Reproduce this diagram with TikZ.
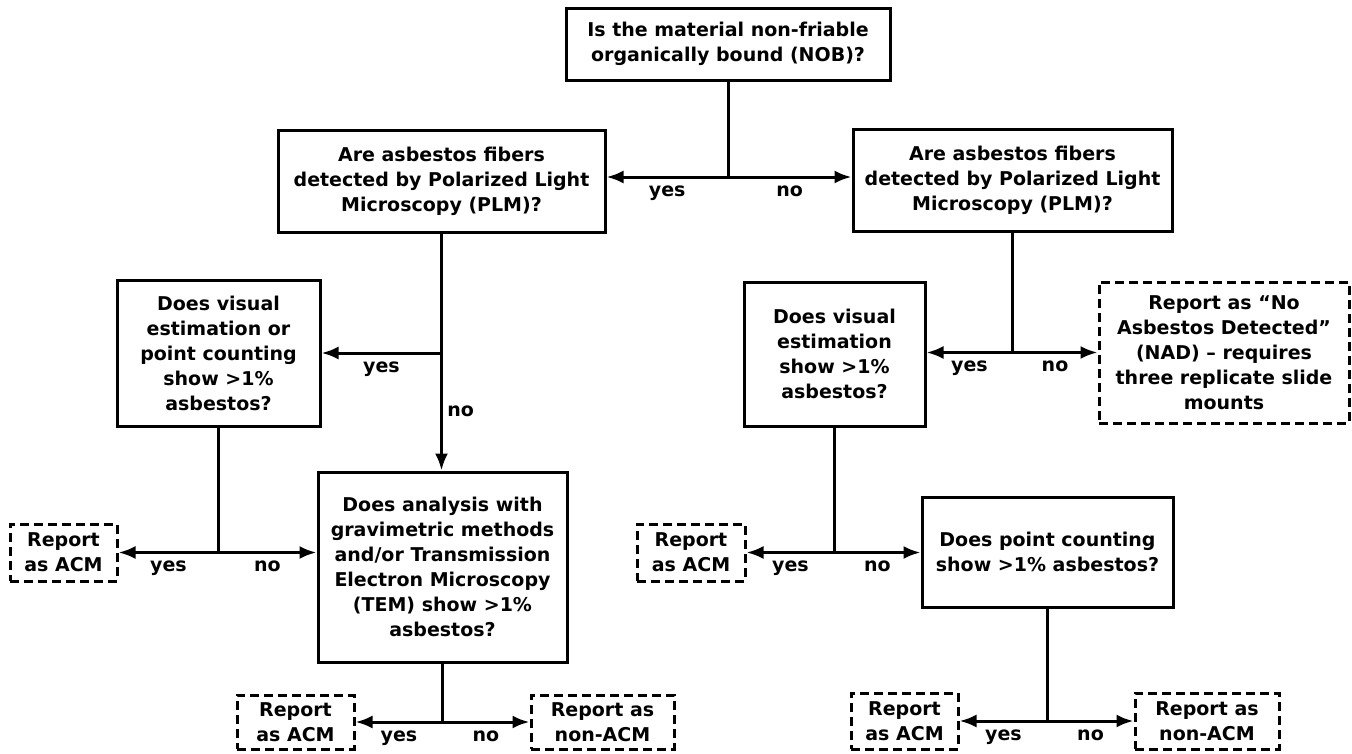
\documentclass[tikz,border=0pt]{standalone}
\usepackage{fontspec}
\setmainfont{DejaVu Sans}
\usetikzlibrary{arrows.meta}

\begin{document}
\begin{tikzpicture}[x=1pt, y=-1pt,
  every node/.style={font=\fontsize{19}{25}\selectfont\bfseries},
  qbox/.style={draw, line width=3pt, align=center, inner sep=0pt},
  rbox/.style={draw, dash pattern=on 9pt off 5pt, line width=3pt, align=center, inner sep=0pt},
  link/.style={line width=3pt},
  arr/.style={line width=3pt, -{Latex[length=17pt,width=13pt]}}]
\useasboundingbox (0,0) rectangle (1352,753);

% questions
\node[qbox, minimum width=324, minimum height=72] (nob) at (728,44) {Is the material non-friable\\organically bound (NOB)?};
\node[qbox, minimum width=327, minimum height=102] (plmL) at (441.5,181) {Are asbestos fibers\\detected by Polarized Light\\Microscopy (PLM)?};
\node[qbox, minimum width=319, minimum height=102] (plmR) at (1012.5,180) {Are asbestos fibers\\detected by Polarized Light\\Microscopy (PLM)?};
\node[qbox, minimum width=203, minimum height=146] (visL) at (218.5,353) {Does visual\\estimation or\\point counting\\show >1\%\\asbestos?};
\node[qbox, minimum width=249, minimum height=190] (temL) at (442.5,567) {Does analysis with\\gravimetric methods\\and/or Transmission\\Electron Microscopy\\(TEM) show >1\%\\asbestos?};
\node[qbox, minimum width=181, minimum height=144] (visR) at (834.5,354) {Does visual\\estimation\\show >1\%\\asbestos?};
\node[qbox, minimum width=251, minimum height=110] (pcR) at (1047.5,552) {Does point counting\\show >1\% asbestos?};

% reports
\node[rbox, minimum width=107, minimum height=57] (acmA) at (63.5,552.5) {Report\\as ACM};
\node[rbox, minimum width=117, minimum height=54] (acmB) at (295.5,722) {Report\\as ACM};
\node[rbox, minimum width=143, minimum height=54] (nonB) at (602.5,722) {Report as\\non-ACM};
\node[rbox, minimum width=250, minimum height=141] (nad) at (1224,352.5) {Report as “No\\Asbestos Detected”\\(NAD) – requires\\three replicate slide\\mounts};
\node[rbox, minimum width=108, minimum height=57] (acmC) at (691,552.5) {Report\\as ACM};
\node[rbox, minimum width=107, minimum height=56] (acmD) at (904.5,721) {Report\\as ACM};
\node[rbox, minimum width=144, minimum height=56] (nonD) at (1207,721) {Report as\\non-ACM};

% branch points
\coordinate (j1) at (728,177);
\coordinate (j2) at (plmL.south |- visL.east);
\coordinate (j3) at (visL.south |- acmA.east);
\coordinate (j4) at (temL.south |- nonB.west);
\coordinate (j5) at (plmR.south |- nad.west);
\coordinate (j6) at (visR.south |- acmC.east);
\coordinate (j7) at (pcR.south |- nonD.west);

\draw[link] (nob.south) -- (j1);
\draw[arr] (j1) -- (j1 -| plmL.east) node[midway, below=4pt] {yes};
\draw[arr] (j1) -- (j1 -| plmR.west) node[midway, below=4pt] {no};

\draw[link] (plmL.south) -- (j2);
\draw[arr] (j2) -- (visL.east) node[midway, below=4pt] {yes};
\draw[arr] (j2) -- (j2 |- temL.north) node[midway, right=1pt] {no};
\draw[link] (visL.south) -- (j3);
\draw[arr] (j3) -- (acmA.east) node[midway, below=4pt] {yes};
\draw[arr] (j3) -- (j3 -| temL.west) node[midway, below=4pt] {no};
\draw[link] (temL.south) -- (j4);
\draw[arr] (j4) -- (acmB.east) node[midway, below=4pt] {yes};
\draw[arr] (j4) -- (nonB.west) node[midway, below=4pt] {no};

\draw[link] (plmR.south) -- (j5);
\draw[arr] (j5) -- (j5 -| visR.east) node[midway, below=4pt] {yes};
\draw[arr] (j5) -- (nad.west) node[midway, below=4pt] {no};
\draw[link] (visR.south) -- (j6);
\draw[arr] (j6) -- (acmC.east) node[midway, below=4pt] {yes};
\draw[arr] (j6) -- (j6 -| pcR.west) node[midway, below=4pt] {no};
\draw[link] (pcR.south) -- (j7);
\draw[arr] (j7) -- (acmD.east) node[midway, below=4pt] {yes};
\draw[arr] (j7) -- (nonD.west) node[midway, below=4pt] {no};
\end{tikzpicture}
\end{document}
